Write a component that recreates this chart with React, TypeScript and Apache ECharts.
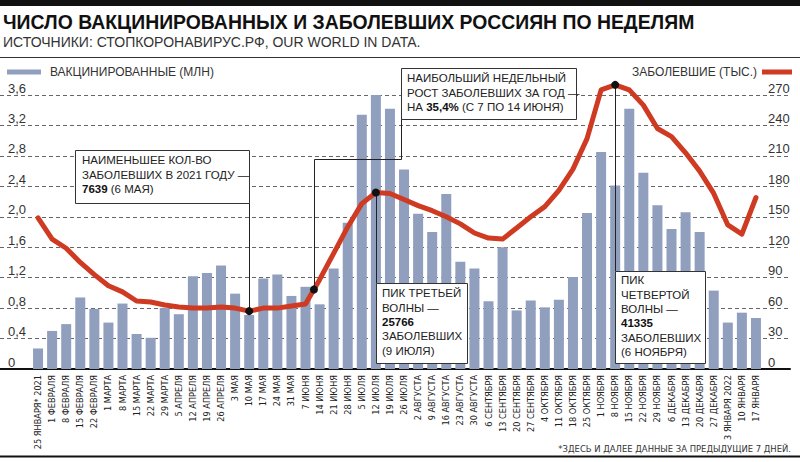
import React, { useEffect, useRef } from 'react';
import * as echarts from 'echarts';

const categories = [
  '25 ЯНВАРЯ* 2021', '1 ФЕВРАЛЯ', '8 ФЕВРАЛЯ', '15 ФЕВРАЛЯ', '22 ФЕВРАЛЯ',
  '1 МАРТА', '8 МАРТА', '15 МАРТА', '22 МАРТА', '29 МАРТА',
  '5 АПРЕЛЯ', '12 АПРЕЛЯ', '19 АПРЕЛЯ', '26 АПРЕЛЯ',
  '3 МАЯ', '10 МАЯ', '17 МАЯ', '24 МАЯ', '31 МАЯ',
  '7 ИЮНЯ', '14 ИЮНЯ', '21 ИЮНЯ', '28 ИЮНЯ',
  '5 ИЮЛЯ', '12 ИЮЛЯ', '19 ИЮЛЯ', '26 ИЮЛЯ',
  '2 АВГУСТА', '9 АВГУСТА', '16 АВГУСТА', '23 АВГУСТА', '30 АВГУСТА',
  '6 СЕНТЯБРЯ', '13 СЕНТЯБРЯ', '20 СЕНТЯБРЯ', '27 СЕНТЯБРЯ',
  '4 ОКТЯБРЯ', '11 ОКТЯБРЯ', '18 ОКТЯБРЯ', '25 ОКТЯБРЯ',
  '1 НОЯБРЯ', '8 НОЯБРЯ', '15 НОЯБРЯ', '22 НОЯБРЯ', '29 НОЯБРЯ',
  '6 ДЕКАБРЯ', '13 ДЕКАБРЯ', '20 ДЕКАБРЯ', '27 ДЕКАБРЯ',
  '3 ЯНВАРЯ 2022', '10 ЯНВАРЯ', '17 ЯНВАРЯ',
];

// vaccinated per week, millions
const vaccinated = [
  0.27, 0.5, 0.59, 0.94, 0.79,
  0.61, 0.86, 0.46, 0.41, 0.8,
  0.72, 1.22, 1.26, 1.36,
  0.99, 0.71, 1.19, 1.24, 0.96,
  1.08, 0.85, 1.32, 1.92,
  3.34, 3.61, 3.42, 2.62,
  2.04, 1.8, 2.3, 1.41, 1.32,
  0.89, 1.6, 0.77, 0.9,
  0.81, 0.91, 1.21, 2.05,
  2.85, 2.41, 3.42, 2.58, 2.15,
  1.84, 2.06, 1.8, 1.03,
  0.61, 0.74, 0.67,
];

// new cases per week, thousands
const cases = [
  149, 128, 119, 105, 93,
  82, 76, 67, 66, 63,
  61, 60, 60, 61,
  60, 57, 60, 60, 62,
  64, 88, 114, 140,
  163, 174, 173, 167,
  161, 156, 150, 143, 134,
  129, 128, 139, 150,
  160, 176, 197, 227,
  275, 280, 275, 260, 237,
  229, 213, 195, 173,
  142, 133, 169,
];

const leftMin = 0;
const leftMax = 3.6;
const leftInterval = 0.4;
const rightMin = 0;
const rightMax = 270;
const rightInterval = 30;

const TITLE = 'ЧИСЛО ВАКЦИНИРОВАННЫХ И ЗАБОЛЕВШИХ РОССИЯН ПО НЕДЕЛЯМ';
const SUBTITLE = 'ИСТОЧНИКИ: СТОПКОРОНАВИРУС.РФ, OUR WORLD IN DATA.';
const FOOTNOTE = '*ЗДЕСЬ И ДАЛЕЕ ДАННЫЕ ЗА ПРЕДЫДУЩИЕ 7 ДНЕЙ.';
const BAR_NAME = 'ВАКЦИНИРОВАННЫЕ (МЛН)';
const LINE_NAME = 'ЗАБОЛЕВШИЕ (ТЫС.)';

const FONT = '"Liberation Sans", Arial, sans-serif';
const NARROW = '"DejaVu Sans Condensed", "Liberation Sans", sans-serif';
const BAR_COLOR = '#919fbe';
const RED = '#cf3a22';
const INK = '#222';

export default function App() {
  const ref = useRef<HTMLDivElement>(null);

  useEffect(() => {
    const el = ref.current;
    if (!el) return;
    const chart = echarts.init(el, null, { renderer: 'svg' });

    const option: any = {
      animation: false,
      backgroundColor: '#ffffff',
      textStyle: { fontFamily: FONT },
      legend: [
        {
          data: [BAR_NAME],
          left: 2,
          top: 61,
          icon: 'rect',
          itemWidth: 34,
          itemHeight: 5,
          selectedMode: false,
          textStyle: { fontSize: 12, color: '#333', fontFamily: FONT, padding: [0, 0, 0, 4] },
        },
        {
          data: [LINE_NAME],
          right: 3,
          top: 61,
          align: 'right',
          icon: 'rect',
          itemWidth: 30,
          itemHeight: 5,
          selectedMode: false,
          textStyle: { fontSize: 12, color: '#333', fontFamily: FONT },
        },
      ],
      grid: [
        { left: 0, right: 10, top: 95, bottom: 93 },
        { left: 31, right: 37, top: 95, bottom: 93 },
      ],
      xAxis: [
        {
          type: 'value',
          gridIndex: 0,
          min: 0,
          max: 1,
          axisLine: { show: true, onZero: false, lineStyle: { color: '#111', width: 2 } },
          axisTick: { show: false },
          axisLabel: { show: false },
          splitLine: { show: false },
        },
        {
          type: 'category',
          gridIndex: 1,
          data: categories,
          axisLine: { show: false },
          axisTick: { show: false },
          axisLabel: {
            interval: 0,
            rotate: 90,
            margin: 6,
            fontSize: 9.1,
            color: INK,
            fontFamily: NARROW,
          },
          splitLine: { show: false },
        },
      ],
      yAxis: [
        {
          type: 'value',
          gridIndex: 0,
          position: 'left',
          min: leftMin,
          max: leftMax,
          interval: leftInterval,
          axisLine: { show: false },
          axisTick: { show: false },
          splitLine: { show: true, lineStyle: { type: [4, 3], color: '#666', width: 1 } },
          axisLabel: {
            inside: true,
            margin: 8,
            align: 'left',
            verticalAlign: 'bottom',
            fontSize: 13,
            lineHeight: 14,
            color: '#333',
            formatter: (v: number) => (v === 0 ? '0' : v.toFixed(1).replace('.', ',')),
          },
        },
        {
          type: 'value',
          gridIndex: 0,
          position: 'right',
          min: rightMin,
          max: rightMax,
          interval: rightInterval,
          axisLine: { show: false },
          axisTick: { show: false },
          splitLine: { show: false },
          axisLabel: {
            inside: true,
            margin: 22,
            align: 'left',
            verticalAlign: 'bottom',
            fontSize: 13,
            lineHeight: 14,
            color: '#333',
          },
        },
        { type: 'value', gridIndex: 1, min: leftMin, max: leftMax, show: false, splitLine: { show: false } },
        { type: 'value', gridIndex: 1, min: rightMin, max: rightMax, show: false, position: 'right', splitLine: { show: false } },
      ],
      series: [
        {
          type: 'bar',
          name: BAR_NAME,
          xAxisIndex: 1,
          yAxisIndex: 2,
          data: vaccinated,
          barWidth: 10,
          itemStyle: { color: BAR_COLOR },
          z: 2,
        },
        {
          type: 'line',
          name: LINE_NAME,
          xAxisIndex: 1,
          yAxisIndex: 3,
          data: cases,
          symbol: 'none',
          clip: false,
          itemStyle: { color: RED },
          lineStyle: { color: RED, width: 5, join: 'round', cap: 'round' },
          z: 5,
        },
      ],
    };

    chart.setOption(option);

    const px = (i: number, v: number) => chart.convertToPixel({ seriesIndex: 1 }, [i, v]) as number[];
    const iMin = categories.indexOf('10 МАЯ');
    const iJun7 = categories.indexOf('7 ИЮНЯ');
    const iJul = categories.indexOf('12 ИЮЛЯ');
    const iNov = categories.indexOf('8 НОЯБРЯ');
    const d1 = px(iMin, cases[iMin]);
    const a = px(iJun7, cases[iJun7]);
    const b = px(iJun7 + 1, cases[iJun7 + 1]);
    const t = 0.6;
    const d2 = [a[0] + (b[0] - a[0]) * t, a[1] + (b[1] - a[1]) * t];
    const d3 = px(iJul, cases[iJul]);
    const d4 = px(iNov, cases[iNov]);

    const fs = 11.5;
    const lh = 14.4;
    const boxText = (x: number, y: number, text: string) => ({
      type: 'text',
      x,
      y,
      z: 101,
      style: {
        text,
        fontSize: fs,
        lineHeight: lh,
        fontFamily: FONT,
        fill: INK,
        verticalAlign: 'top',
        align: 'left',
        rich: {
          b: { fontSize: fs, lineHeight: lh, fontFamily: FONT, fontWeight: 'bold', fill: '#111' },
        },
      },
    });
    const box = (x: number, y: number, w: number, h: number) => ({
      type: 'rect',
      z: 100,
      shape: { x: Math.round(x) + 0.5, y: y + 0.5, width: w, height: h },
      style: { fill: '#fff', stroke: '#333', lineWidth: 1 },
    });
    const conn = (pts: number[][]) => ({
      type: 'polyline',
      z: 99,
      shape: { points: pts.map((p) => [Math.round(p[0]) + 0.5, p[1]]) },
      style: { stroke: '#222', lineWidth: 1, fill: 'none' },
    });
    const dot = (p: number[]) => ({
      type: 'circle',
      z: 102,
      shape: { cx: p[0], cy: p[1], r: 4 },
      style: { fill: '#111' },
    });

    const b1 = { x: 75, y: 150, h: 53 };
    const b2 = { x: 401, y: 68, w: 175, h: 51 };
    const b3 = { y: 283, w: 91, h: 80 };
    const b4 = { y: 271, w: 90, h: 92 };

    chart.setOption({
      graphic: [
        { type: 'rect', z: 50, shape: { x: 0, y: 0, width: 800, height: 6 }, style: { fill: '#111' } },
        {
          type: 'text', x: 3, y: 22, z: 50,
          style: { text: TITLE, fontSize: 19.4, fontWeight: 'bold', fontFamily: FONT, fill: '#111', verticalAlign: 'middle' },
        },
        {
          type: 'text', x: 3, y: 42, z: 50,
          style: { text: SUBTITLE, fontSize: 14, fontFamily: FONT, fill: '#333', verticalAlign: 'middle' },
        },
        { type: 'line', z: 50, shape: { x1: 0, y1: 57.5, x2: 800, y2: 57.5 }, style: { stroke: '#333', lineWidth: 1 } },
        {
          type: 'text', x: 791, y: 448, z: 50,
          style: { text: FOOTNOTE, fontSize: 9.4, fontFamily: NARROW, fill: '#333', align: 'right', verticalAlign: 'middle' },
        },
        { type: 'line', z: 50, shape: { x1: 0, y1: 456.5, x2: 800, y2: 456.5 }, style: { stroke: '#111', lineWidth: 2 } },

        conn([[d1[0], b1.y + b1.h], d1]),
        conn([[b2.x, b2.y + b2.h], [b2.x, 159.5], [d2[0], 159.5], d2]),
        conn([d3, [d3[0], b3.y]]),
        conn([d4, [d4[0], b4.y]]),

        box(b1.x, b1.y, Math.round(d1[0]) - b1.x, b1.h),
        boxText(b1.x + 7, b1.y + 3, 'НАИМЕНЬШЕЕ КОЛ-ВО\nЗАБОЛЕВШИХ В 2021 ГОДУ —\n{b|7639} (6 МАЯ)'),
        box(b2.x, b2.y, b2.w, b2.h),
        boxText(b2.x + 6, b2.y + 3, 'НАИБОЛЬШИЙ НЕДЕЛЬНЫЙ\nРОСТ ЗАБОЛЕВШИХ ЗА ГОД —\nНА {b|35,4%} (С 7 ПО 14 ИЮНЯ)'),
        box(d3[0], b3.y, b3.w, b3.h),
        boxText(Math.round(d3[0]) + 6, b3.y + 3, 'ПИК ТРЕТЬЕЙ\nВОЛНЫ —\n{b|25766}\nЗАБОЛЕВШИХ\n(9 ИЮЛЯ)'),
        box(d4[0], b4.y, b4.w, b4.h),
        boxText(Math.round(d4[0]) + 6, b4.y + 2, 'ПИК\nЧЕТВЕРТОЙ\nВОЛНЫ —\n{b|41335}\nЗАБОЛЕВШИХ\n(6 НОЯБРЯ)'),

        dot(d1),
        dot(d2),
        dot(d3),
        dot(d4),
      ],
    });

    return () => {
      chart.dispose();
    };
  }, []);

  return (
    <div
      ref={ref}
      style={{ position: 'absolute', left: 0, top: 0, width: 800, height: 462, background: '#fff' }}
    />
  );
}
